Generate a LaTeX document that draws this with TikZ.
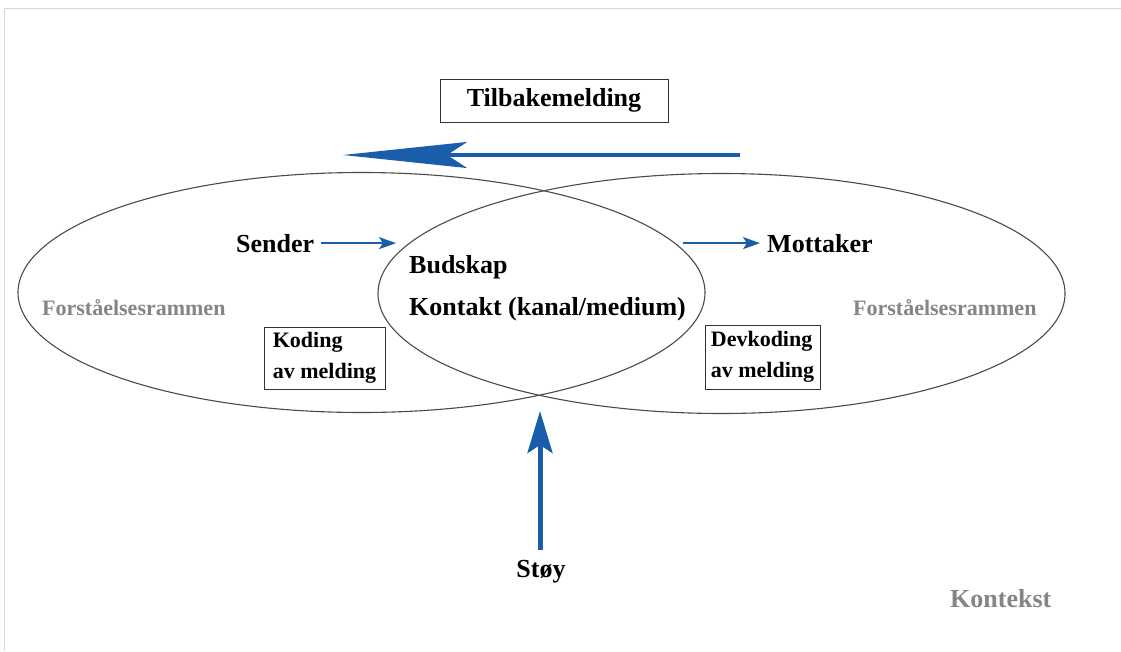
\documentclass[tikz,border=0pt]{standalone}
\usepackage{fontspec}
\setmainfont{Liberation Serif}
\usetikzlibrary{arrows.meta}
\definecolor{ablue}{HTML}{1A5DAB}
\definecolor{elgray}{HTML}{4A4A4A}
\definecolor{txtgray}{HTML}{858585}
\definecolor{framegray}{HTML}{D6D6D6}
\begin{document}
\begin{tikzpicture}[x=1pt,y=-1pt,
  big/.style={font=\bfseries\fontsize{26}{30}\selectfont, inner sep=0pt},
  frame/.style={font=\bfseries\fontsize{22}{26}\selectfont, inner sep=0pt, text=txtgray},
  codebox/.style={draw=black!80, line width=1pt, font=\bfseries\fontsize{22}{31}\selectfont, align=left, inner xsep=0pt, inner ysep=0pt},
  ell/.style={draw=elgray, line width=1.1pt},
  thinarr/.style={draw=ablue, line width=2pt, -{Stealth[length=17pt, width=12pt, inset=4pt]}},
  fbarr/.style={draw=ablue, line width=3.6pt, -{Stealth[length=124pt, width=26pt, inset=20pt]}},
  noisearr/.style={draw=ablue, line width=5pt, -{Stealth[length=42pt, width=25pt, inset=8pt]}}
]
\useasboundingbox (0,0) rectangle (1121,651);
\fill[white] (0,0) rectangle (1121,651);
\draw[framegray, line width=1pt] (4,651) -- (4,8) -- (1121,8);

% ellipses
\draw[ell] (361.5,292.5) ellipse [x radius=343.5pt, y radius=120pt];
\draw[ell] (721.5,293.5) ellipse [x radius=343.5pt, y radius=120pt];

% feedback
\node[draw=black!80, line width=1pt, minimum width=228pt, minimum height=43pt, inner sep=0pt,
      font=\bfseries\fontsize{26}{30}\selectfont] (tilbake) at (554,100.5) {Tilbakemelding};
\coordinate (fbstart) at (740,155);
\coordinate (fbtip) at (343,155);
\draw[fbarr] (fbstart) -- (fbtip);

% sender / receiver
\node[big, anchor=base west] (sender) at (236,252) {Sender};
\coordinate (sendtip) at (396,245);
\draw[thinarr] ([xshift=7pt]sender.east) -- (sendtip |- sender.east);

\node[big, anchor=base west] (mottaker) at (767,252) {Mottaker};
\coordinate (motstart) at (683,242);
\draw[thinarr] (motstart |- mottaker.west) -- ([xshift=-7pt]mottaker.west);

% centre texts
\node[big, anchor=base west] (budskap) at (409,273) {Budskap};
\node[big, anchor=base west] (kontakt) at (409,315) {Kontakt (kanal/medium)};

% frames of reference
\node[frame, anchor=base west] (fl) at (42,315) {Forståelsesrammen};
\node[frame, anchor=base west] (fr) at (853,315) {Forståelsesrammen};

% coding boxes
\node[codebox, minimum width=121pt, minimum height=62pt] (koding) at (324.5,358) {Koding\\av melding};
\node[codebox, minimum width=115pt, minimum height=64pt] (dekoding) at (762.5,357) {Devkoding\\av melding};

% noise
\node[big, anchor=base] (stoy) at (541,577) {Støy};
\coordinate (noisetip) at (540,411);
\draw[noisearr] ([yshift=10pt]noisetip |- stoy.north) -- (noisetip);

% context
\node[big, anchor=base west, text=txtgray] (kontekst) at (950,607) {Kontekst};
\end{tikzpicture}
\end{document}
